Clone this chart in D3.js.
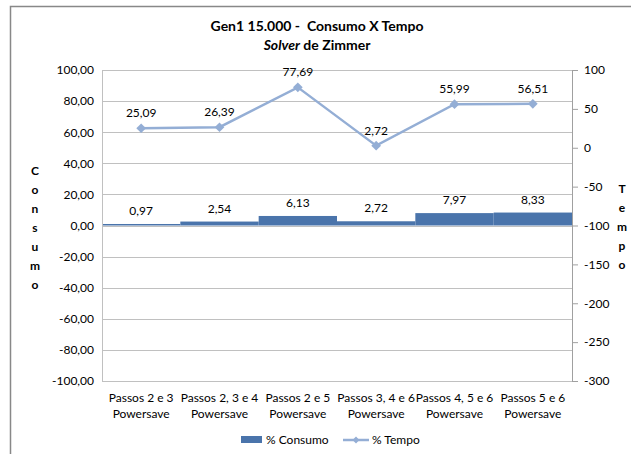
<!DOCTYPE html>
<html>
<head>
<meta charset="utf-8">
<script src="https://cdn.jsdelivr.net/npm/d3@7"></script>
<style>
  body { margin: 0; background: #fff; }
  text { font-family: Lato, "Open Sans", sans-serif; fill: #000; }
</style>
</head>
<body>
<div id="chart"></div>
<script>
const categories = ["Passos 2 e 3", "Passos 2, 3 e 4", "Passos 2 e 5", "Passos 3, 4 e 6", "Passos 4, 5 e 6", "Passos 5 e 6"];
const consumo = [0.97, 2.54, 6.13, 2.72, 7.97, 8.33];
const tempo = [25.09, 26.39, 77.69, 2.72, 55.99, 56.51];
const leftTicks = [100, 80, 60, 40, 20, 0, -20, -40, -60, -80, -100];
const rightTicks = [100, 50, 0, -50, -100, -150, -200, -250, -300];

const width = 631, height = 454;
const plot = { left: 102, right: 572, top: 70, bottom: 381 };
const fmt = v => v.toFixed(2).replace(".", ",");
const barColor = "#4a74ab";
const lineColor = "#94aed5";

const svg = d3.select("#chart").append("svg")
  .attr("width", width).attr("height", height);

// outer chart border
svg.append("path")
  .attr("d", "M10.5," + height + "V6.5H" + width)
  .attr("fill", "none").attr("stroke", "#888").attr("stroke-width", 1.5);

const x = d3.scaleBand().domain(categories).range([plot.left, plot.right]).padding(0);
const yL = d3.scaleLinear().domain([-100, 100]).range([plot.bottom, plot.top]);
const yR = d3.scaleLinear().domain([-300, 100]).range([plot.bottom, plot.top]);

// gridlines
svg.append("g").selectAll("line").data(leftTicks).enter().append("line")
  .attr("x1", plot.left).attr("x2", plot.right)
  .attr("y1", d => Math.round(yL(d)) + 0.5).attr("y2", d => Math.round(yL(d)) + 0.5)
  .attr("stroke", "#c0c0c0");

// bars
svg.append("g").selectAll("rect").data(consumo).enter().append("rect")
  .attr("x", (d, i) => x(categories[i]))
  .attr("width", x.bandwidth())
  .attr("y", d => yL(d))
  .attr("height", d => yL(0) - yL(d))
  .attr("fill", barColor);

svg.append("g").selectAll("text").data(consumo).enter().append("text")
  .attr("x", (d, i) => x(categories[i]) + x.bandwidth() / 2)
  .attr("y", d => yL(d) - 9)
  .attr("text-anchor", "middle")
  .attr("font-size", "12px")
  .text(d => fmt(d));

// axes
const leftAxis = svg.append("g").attr("transform", "translate(" + plot.left + ",0)")
  .call(d3.axisLeft(yL).tickValues(leftTicks).tickSize(0).tickPadding(8).tickFormat(fmt));
leftAxis.select(".domain").attr("stroke", "#c0c0c0");
leftAxis.selectAll("text").attr("font-size", "12px").style("font-family", "Lato, sans-serif");

const rightAxis = svg.append("g").attr("transform", "translate(" + plot.right + ",0)")
  .call(d3.axisRight(yR).tickValues(rightTicks).tickSize(6).tickPadding(6).tickFormat(d => String(d)));
rightAxis.select(".domain").attr("stroke", "#a0a0a0");
rightAxis.selectAll(".tick line").attr("stroke", "#a0a0a0");
rightAxis.selectAll("text").attr("font-size", "12px").style("font-family", "Lato, sans-serif");

// bottom axis line
svg.append("line")
  .attr("x1", plot.left).attr("x2", plot.right)
  .attr("y1", plot.bottom + 0.5).attr("y2", plot.bottom + 0.5)
  .attr("stroke", "#c0c0c0");

// line series
const line = d3.line()
  .x((d, i) => x(categories[i]) + x.bandwidth() / 2)
  .y(d => yR(d));
svg.append("path").datum(tempo)
  .attr("d", line).attr("fill", "none")
  .attr("stroke", lineColor).attr("stroke-width", 2.5);

svg.append("g").selectAll("path").data(tempo).enter().append("path")
  .attr("d", d3.symbol().type(d3.symbolDiamond2).size(60))
  .attr("transform", (d, i) => "translate(" + (x(categories[i]) + x.bandwidth() / 2) + "," + yR(d) + ")")
  .attr("fill", lineColor);

svg.append("g").selectAll("text").data(tempo).enter().append("text")
  .attr("x", (d, i) => x(categories[i]) + x.bandwidth() / 2)
  .attr("y", d => yR(d) - 11)
  .attr("text-anchor", "middle")
  .attr("font-size", "12px")
  .text(d => fmt(d));

// category labels
const catLabels = svg.append("g").selectAll("text").data(categories).enter().append("text")
  .attr("x", d => x(d) + x.bandwidth() / 2)
  .attr("y", 402)
  .attr("text-anchor", "middle")
  .attr("font-size", "12px");
catLabels.append("tspan").text(d => d);
catLabels.append("tspan").attr("x", d => x(d) + x.bandwidth() / 2).attr("dy", 16).text("Powersave");

// title
svg.append("text").attr("x", 317).attr("y", 31).attr("text-anchor", "middle")
  .attr("font-size", "14px").attr("font-weight", "bold")
  .style("white-space", "pre")
  .text("Gen1 15.000 -  Consumo X Tempo");
const sub = svg.append("text").attr("x", 317).attr("y", 50).attr("text-anchor", "middle")
  .attr("font-size", "14px").attr("font-weight", "bold");
sub.append("tspan").attr("font-style", "italic").text("Solver");
sub.append("tspan").text(" de Zimmer");

// axis titles, stacked letters
svg.append("g").selectAll("text").data("Consumo".split("")).enter().append("text")
  .attr("x", 35).attr("y", (d, i) => 175 + i * 19)
  .attr("text-anchor", "middle").attr("font-size", "12px").attr("font-weight", "bold")
  .text(d => d);
svg.append("g").selectAll("text").data("Tempo".split("")).enter().append("text")
  .attr("x", 622).attr("y", (d, i) => 193 + i * 19)
  .attr("text-anchor", "middle").attr("font-size", "12px").attr("font-weight", "bold")
  .text(d => d);

// legend
const legend = svg.append("g");
legend.append("rect").attr("x", 241).attr("y", 436).attr("width", 21).attr("height", 7).attr("fill", barColor);
legend.append("text").attr("x", 266).attr("y", 444).attr("font-size", "12px").text("% Consumo");
legend.append("line").attr("x1", 343).attr("x2", 369).attr("y1", 440).attr("y2", 440)
  .attr("stroke", lineColor).attr("stroke-width", 2.5);
legend.append("path").attr("d", d3.symbol().type(d3.symbolDiamond2).size(30))
  .attr("transform", "translate(356,440)").attr("fill", lineColor);
legend.append("text").attr("x", 372).attr("y", 444).attr("font-size", "12px").text("% Tempo");
</script>
</body>
</html>
